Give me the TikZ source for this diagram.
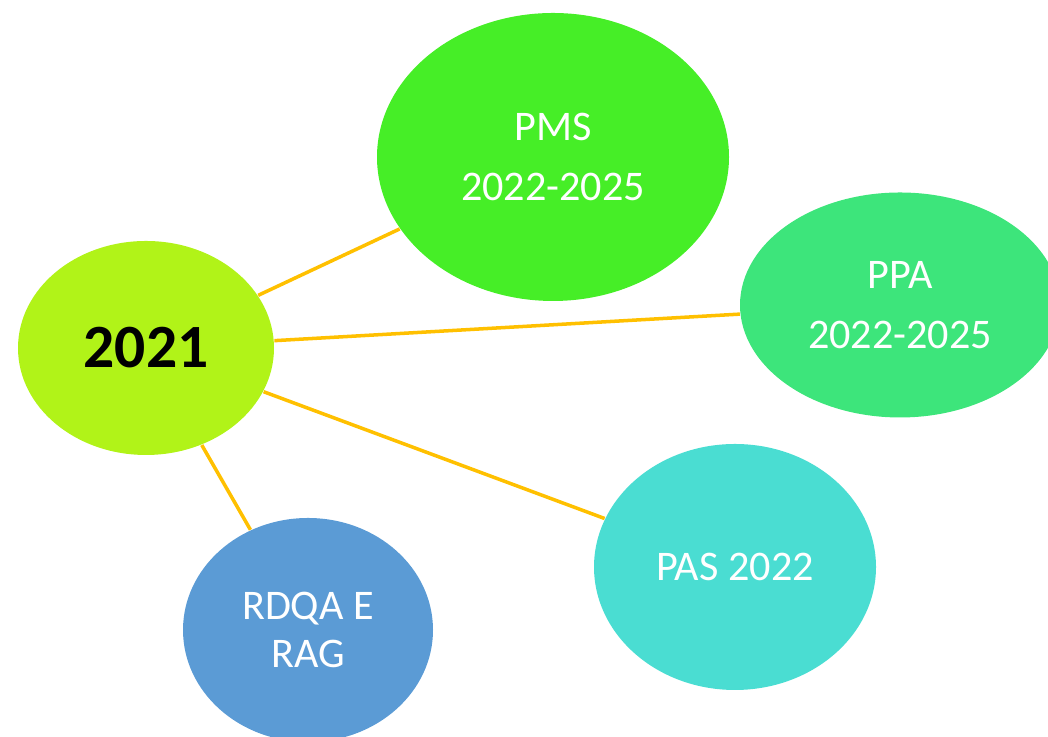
\documentclass[tikz,border=0pt]{standalone}
\usepackage{fontspec}
\setmainfont{Carlito}
\usetikzlibrary{shapes,positioning}
\definecolor{limeg}{HTML}{B1F318}
\definecolor{pmsg}{HTML}{46EE27}
\definecolor{ppag}{HTML}{3DE57B}
\definecolor{pasc}{HTML}{4ADDD2}
\definecolor{rdqab}{HTML}{5B9BD5}
\definecolor{linko}{HTML}{FFC000}
\tikzset{
	bubble/.style={ellipse,inner sep=0pt,text=white,align=center,font=\fontsize{12}{17}\selectfont},
	link/.style={color=linko, line width=1pt}
}
\begin{document}
\begin{tikzpicture}
	\useasboundingbox (0,0) rectangle (10.48,7.37);
	\clip (0,0) rectangle (10.48,7.37);
	%%%bubbles
	\node[bubble,fill=limeg,text=black,minimum width=2.56cm,minimum height=2.14cm,font=\fontsize{17.5}{20}\selectfont\bfseries] (y2021) at (1.46,3.89) {2021};
	\node[bubble,fill=pmsg,minimum width=3.52cm,minimum height=2.88cm] (pms) at (5.53,5.80) {PMS\\2022-2025};
	\node[bubble,fill=ppag,minimum width=3.20cm,minimum height=2.25cm] (ppa) at (9.00,4.32) {PPA\\2022-2025};
	\node[bubble,fill=pasc,minimum width=2.82cm,minimum height=2.46cm] (pas) at (7.35,1.70) {PAS 2022};
	\node[bubble,fill=rdqab,minimum width=2.50cm,minimum height=2.24cm,font=\fontsize{12}{13.5}\selectfont] (rdqa) at (3.08,1.07) {RDQA E\\RAG};
	
	%%%links
	\draw[link] (y2021) -- (pms);
	\draw[link] (y2021) -- (ppa);
	\draw[link] (y2021) -- (pas);
	\draw[link] (y2021) -- (rdqa);
\end{tikzpicture}
\end{document}
